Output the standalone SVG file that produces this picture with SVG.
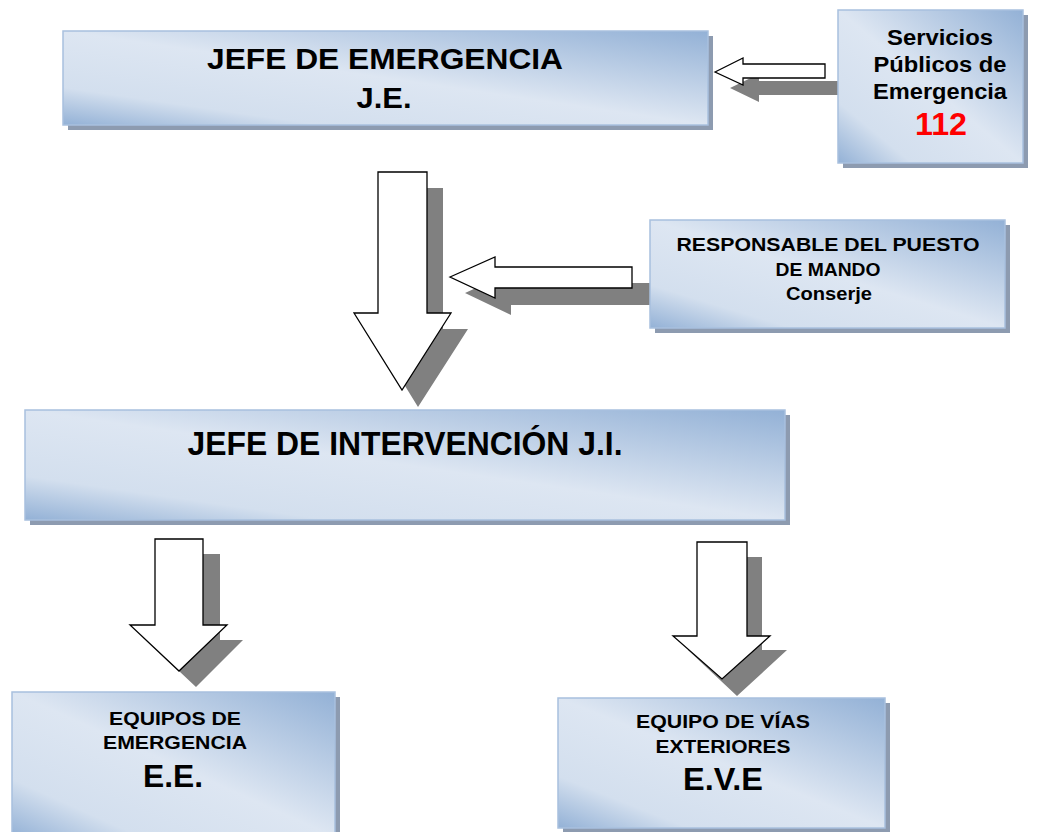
<svg xmlns="http://www.w3.org/2000/svg" width="1043" height="832" viewBox="0 0 1043 832">
<defs>
<linearGradient id="bx" x1="1" y1="0" x2="0" y2="1">
<stop offset="0" stop-color="#93b1d6"/>
<stop offset="0.5" stop-color="#dde6f2"/>
<stop offset="0.8" stop-color="#d3dfee"/>
<stop offset="1" stop-color="#93b1d6"/>
</linearGradient>
</defs>
<style>
.box{fill:url(#bx);stroke:#a8c0de;stroke-width:1.5}
.sh{fill:#8d9bb0}
.ash{fill:#808080}
.arr{fill:#ffffff;stroke:#000000;stroke-width:1.3;stroke-linejoin:miter}
text{font-family:"Liberation Sans",Arial,sans-serif;font-weight:bold;fill:#000000;text-anchor:middle}
.red{fill:#ff0000}
</style>
<rect width="1043" height="832" fill="#ffffff"/>
<g id="connectors">
<polygon class="ash" points="730,88 759,74 759,81 840,81 840,95 759,95 759,102"/>
<polygon class="arr" points="715,72 743,58 743,64 825,64 825,78 743,78 743,85"/>
<polygon class="ash" points="465,293 511,272 511,283 650,283 650,305 511,305 511,315"/>
<polygon class="arr" points="450,277 495,257 495,267 632,267 632,288 495,288 495,298"/>
<polygon class="ash" points="394,188 443,188 443,329 468,329 418,407 370,329 394,329"/>
<polygon class="arr" points="378,172 427,172 427,313 451,313 402,390 354,313 378,313"/>
<polygon class="ash" points="171,554 220,554 220,640 243,640 196,687 146,640 171,640"/>
<polygon class="arr" points="155,539 203,539 203,625 227,625 179,671 130,625 155,625"/>
<polygon class="ash" points="712,557 762,557 762,650 787,650 737,696 688,650 712,650"/>
<polygon class="arr" points="697,542 747,542 747,636 770,636 722,679 673,636 697,636"/>
</g>
<g id="jefe-emergencia">
<rect class="sh" x="68" y="36" width="645" height="94"/>
<rect class="box" x="63" y="31" width="645" height="94"/>
<text x="385" y="69" font-size="29" textLength="356" lengthAdjust="spacingAndGlyphs">JEFE DE EMERGENCIA</text>
<text x="384" y="108" font-size="29" textLength="55" lengthAdjust="spacingAndGlyphs">J.E.</text>
</g>
<g id="servicios">
<rect class="sh" x="843" y="15" width="185" height="153"/>
<rect class="box" x="838" y="10" width="185" height="153"/>
<text x="940" y="45" font-size="22" textLength="106" lengthAdjust="spacingAndGlyphs">Servicios</text>
<text x="940" y="72" font-size="22" textLength="133" lengthAdjust="spacingAndGlyphs">Públicos de</text>
<text x="940" y="99" font-size="22" textLength="134" lengthAdjust="spacingAndGlyphs">Emergencia</text>
<text class="red" x="941" y="135" font-size="31" textLength="52" lengthAdjust="spacingAndGlyphs">112</text>
</g>
<g id="responsable">
<rect class="sh" x="655" y="225" width="355" height="108"/>
<rect class="box" x="650" y="220" width="355" height="108"/>
<text x="828" y="251" font-size="18" textLength="303" lengthAdjust="spacingAndGlyphs">RESPONSABLE DEL PUESTO</text>
<text x="828" y="276" font-size="18" textLength="105" lengthAdjust="spacingAndGlyphs">DE MANDO</text>
<text x="829" y="300" font-size="18" textLength="86" lengthAdjust="spacingAndGlyphs">Conserje</text>
</g>
<g id="jefe-intervencion">
<rect class="sh" x="30" y="415" width="760" height="110"/>
<rect class="box" x="25" y="410" width="760" height="110"/>
<text x="405" y="455" font-size="33" textLength="435" lengthAdjust="spacingAndGlyphs">JEFE DE INTERVENCIÓN J.I.</text>
</g>
<g id="equipos-emergencia">
<rect class="sh" x="17" y="697" width="323" height="145"/>
<rect class="box" x="12" y="692" width="323" height="145"/>
<text x="175" y="725" font-size="19" textLength="132" lengthAdjust="spacingAndGlyphs">EQUIPOS DE</text>
<text x="175" y="749" font-size="19" textLength="144" lengthAdjust="spacingAndGlyphs">EMERGENCIA</text>
<text x="173" y="787" font-size="31" textLength="60" lengthAdjust="spacingAndGlyphs">E.E.</text>
</g>
<g id="equipo-vias">
<rect class="sh" x="563" y="703" width="327" height="130"/>
<rect class="box" x="558" y="698" width="327" height="130"/>
<text x="723" y="728" font-size="19" textLength="174" lengthAdjust="spacingAndGlyphs">EQUIPO DE VÍAS</text>
<text x="723" y="753" font-size="19" textLength="135" lengthAdjust="spacingAndGlyphs">EXTERIORES</text>
<text x="723" y="790" font-size="31" textLength="80" lengthAdjust="spacingAndGlyphs">E.V.E</text>
</g>
</svg>
